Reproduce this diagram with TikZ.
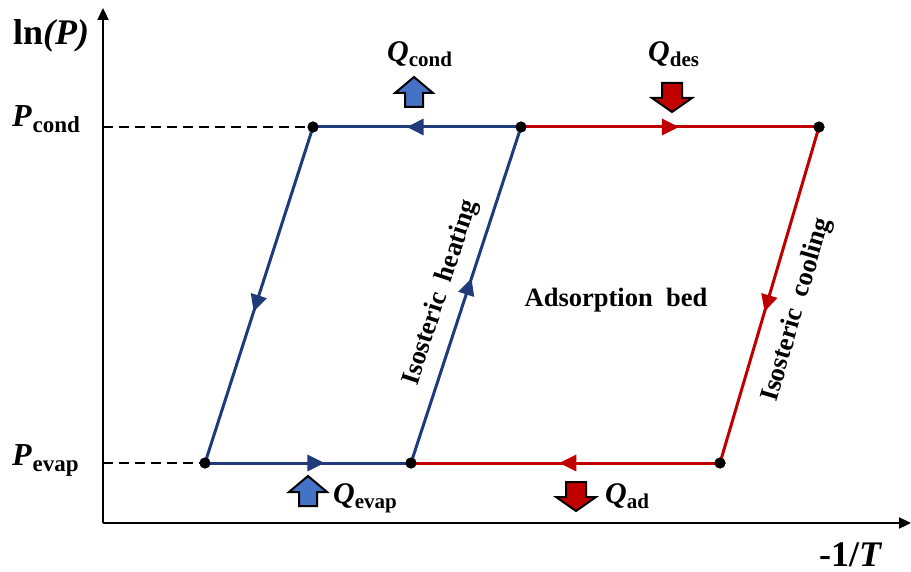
\documentclass[tikz,border=0pt]{standalone}
\usepackage{fontspec}
\usepackage{graphicx}
\setmainfont{Liberation Serif}
\usetikzlibrary{arrows.meta,decorations.markings}
\newcommand{\fsz}[1]{\fontsize{#1}{#1}\selectfont}
\newcommand{\plab}[2]{{\fsz{32}\bfseries\itshape #1}\kern1pt\raisebox{-6pt}{\fsz{23}\bfseries #2}}
\newcommand{\qlab}[2]{{\fsz{30}\bfseries\itshape #1}\raisebox{-5pt}{\fsz{21}\bfseries #2}}
\definecolor{cycblue}{HTML}{1F3B7A}
\definecolor{cycred}{HTML}{C00000}
\definecolor{heatblue}{HTML}{4472C4}
\definecolor{heatred}{HTML}{C00000}
\begin{document}
\begin{tikzpicture}[x=1pt,y=-1pt,
  axisline/.style={line width=2.3pt,-{Triangle[length=12pt,width=11pt]}},
  guide/.style={line width=2pt,dash pattern=on 10pt off 6pt},
  blueline/.style={draw=cycblue,line width=3pt},
  redline/.style={draw=cycred,line width=3pt},
  midarrow/.style={postaction={decorate},decoration={markings,
     mark=at position #1 with {\arrow{Triangle[length=17pt,width=16pt]}}}},
  dot/.style={circle,fill=black,inner sep=0pt,minimum size=11pt},
  lab/.style={inner sep=0pt,anchor=base west},
  bedtext/.style={inner sep=0pt,font=\fsz{26.5}\bfseries},
  heatup/.pic={\path[pic actions] (-9,14) -- (-9,0) -- (-19,0) -- (0,-16) -- (19,0) -- (9,0) -- (9,14) -- cycle;},
  heatdown/.pic={\path[pic actions] (-10,-15) -- (-10,0) -- (-20,0) -- (0,14) -- (20,0) -- (10,0) -- (10,-15) -- cycle;},
  bluebox/.style={draw=black,line width=2pt,fill=heatblue,line join=miter},
  redbox/.style={draw=black,line width=2pt,fill=heatred,line join=miter}
]
\useasboundingbox (0,0) rectangle (911,572);

% axes
\coordinate (O) at (103,523);
\coordinate (ytip) at (103,8);
\coordinate (xtip) at (911,523);
\draw[axisline] (O) -- (ytip);
\draw[axisline] (O) -- (xtip);

% cycle points
\coordinate (yc) at (103,127);
\coordinate (ye) at (103,463);
\node[dot] (A) at (313,127) {};
\node[dot] (B) at (521,127) {};
\node[dot] (C) at (819,127) {};
\node[dot] (D) at (205,463) {};
\node[dot] (E) at (411,463) {};
\node[dot] (F) at (720,463) {};

% guides
\draw[guide] (yc) -- (A.center);
\draw[guide] (ye) -- (D.center);

% red cycle
\draw[redline,midarrow=0.53] (B.center) -- (C.center);
\draw[redline,midarrow=0.55] (C.center) -- (F.center);
\draw[redline,midarrow=0.52] (F.center) -- (E.center);
% blue cycle
\draw[blueline,midarrow=0.55] (B.center) -- (A.center);
\draw[blueline,midarrow=0.55] (A.center) -- (D.center);
\draw[blueline,midarrow=0.58] (D.center) -- (E.center);
\draw[blueline,midarrow=0.55] (E.center) -- (B.center);

% redraw dots on top
\foreach \p in {A,B,C,D,E,F} \fill (\p) circle (5.5pt);

% heat arrows
\pic[bluebox] (qc) at (414,93) {heatup};
\pic[redbox] (qd) at (672,98) {heatdown};
\pic[bluebox] (qe) at (308,492) {heatup};
\pic[redbox] (qa) at (576,497) {heatdown};

% labels
\node[lab] (lnp) at (13,45) {\fsz{36}\bfseries ln\textit{(P)}};
\node[lab] (pc) at (12,127) {\plab{P}{cond}};
\node[lab] (pe) at (12,465) {\plab{P}{evap}};
\node[lab] (qcl) at (387,62) {\qlab{Q}{cond}};
\node[lab] (qdl) at (648,62) {\qlab{Q}{des}};
\node[lab] (qel) at (333,503) {\qlab{Q}{evap}};
\node[lab] (qal) at (605,503) {\qlab{Q}{ad}};
\node[lab] (xl) at (819,566) {\fsz{36}\bfseries -1/\textit{T}};
\node[bedtext] (bed) at (616,300) {Adsorption\ \ bed};
\node[bedtext] (ih) at (441,293) {\rotatebox{71.9}{Isosteric\ \ heating}};
\node[bedtext] (ic) at (797,310) {\rotatebox{73.6}{Isosteric\ \ cooling}};
\end{tikzpicture}
\end{document}
